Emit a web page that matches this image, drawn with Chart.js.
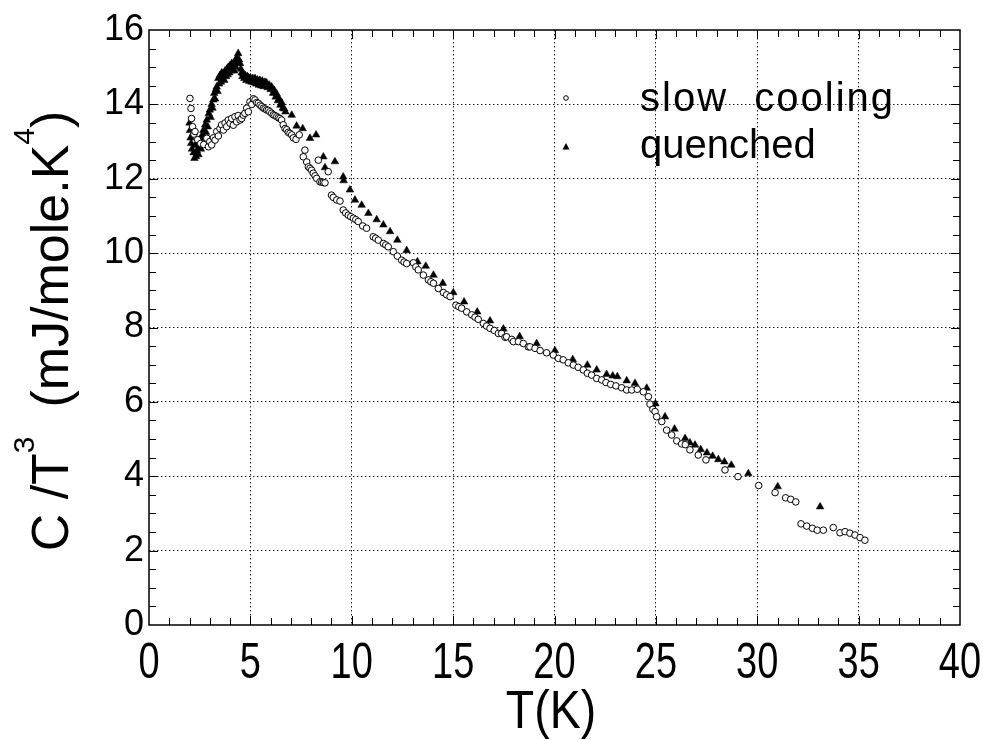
<!DOCTYPE html>
<html>
<head>
<meta charset="utf-8">
<script src="https://cdn.jsdelivr.net/npm/chart.js@4.4.0/dist/chart.umd.min.js"></script>
<style>
  html, body { margin: 0; padding: 0; background: #fff; }
  #wrap { width: 983px; height: 739px; }
</style>
</head>
<body>
<div id="wrap"><canvas id="c"></canvas></div>
<script>
// slow cooling (open circles)
const slowT = [2.02,2.07,2.10,2.15,2.22,2.27,2.40,2.55,2.70,2.85,2.93,3.00,3.09,3.18,3.26,3.34,3.42,3.50,3.58,3.67,3.75,3.83,3.91,4.00,4.08,4.16,4.24,4.32,4.40,4.49,4.57,4.65,4.73,4.82,4.90,4.98,5.07,5.15,5.23,5.31,5.39,5.48,5.56,5.64,5.72,5.80,5.88,5.96,6.05,6.13,6.21,6.30,6.38,6.46,6.54,6.62,6.71,6.79,6.87,6.95,7.04,7.12,7.25,7.41,7.61,7.69,7.78,7.86,7.94,8.02,8.10,8.19,8.27,8.35,8.43,8.52,8.60,8.68,8.84,9.00,9.09,9.26,9.42,9.58,9.70,9.83,9.95,10.08,10.20,10.32,10.54,10.73,11.06,11.18,11.31,11.56,11.68,11.80,12.05,12.25,12.46,12.58,12.71,13.04,13.16,13.28,13.53,13.78,13.90,14.03,14.27,14.52,14.68,14.85,15.14,15.28,15.42,15.67,15.92,16.08,16.24,16.49,16.65,16.82,17.03,17.23,17.39,17.56,17.64,17.89,17.97,18.22,18.46,18.71,18.79,19.04,19.29,19.61,19.94,20.19,20.43,20.68,20.93,21.17,21.42,21.62,21.83,22.08,22.33,22.54,22.77,23.03,23.31,23.56,23.81,24.08,24.38,24.63,24.71,24.85,24.96,25.04,25.29,25.53,25.78,26.03,26.27,26.45,26.68,27.09,27.47,28.41,29.05,30.07,30.88,31.40,31.65,31.90,32.16,32.44,32.72,32.96,33.26,33.75,34.08,34.33,34.57,34.82,35.07,35.31];
const slowC = [14.16,13.89,13.62,13.40,13.20,13.27,13.05,12.95,12.92,13.09,12.86,13.00,12.91,13.10,13.04,13.27,13.15,13.35,13.45,13.31,13.50,13.40,13.58,13.49,13.62,13.44,13.67,13.53,13.70,13.58,13.62,13.71,13.76,13.90,13.80,14.07,14.00,14.15,14.12,14.05,14.03,13.98,13.94,13.90,13.88,13.85,13.84,13.80,13.76,13.72,13.70,13.67,13.64,13.62,13.58,13.45,13.35,13.32,13.25,13.22,13.18,13.10,13.06,13.18,12.59,12.77,12.45,12.32,12.28,12.23,12.15,12.08,12.01,12.50,11.92,11.91,11.90,11.89,12.19,11.56,11.50,11.43,11.40,11.16,11.08,11.02,10.98,10.94,10.90,10.85,10.73,10.67,10.44,10.40,10.35,10.26,10.22,10.17,10.04,9.92,9.81,9.76,9.72,9.74,9.63,9.55,9.41,9.28,9.23,9.19,9.05,8.94,8.88,8.83,8.60,8.56,8.52,8.42,8.34,8.28,8.22,8.11,8.04,7.98,7.92,7.84,7.84,7.74,7.75,7.68,7.62,7.62,7.57,7.48,7.48,7.44,7.38,7.32,7.26,7.17,7.13,7.05,6.99,6.93,6.86,6.77,6.72,6.63,6.59,6.52,6.47,6.43,6.38,6.32,6.32,6.34,6.27,6.14,5.94,5.80,5.74,5.60,5.47,5.24,5.11,4.95,4.87,4.85,4.71,4.57,4.44,4.17,3.99,3.75,3.56,3.42,3.38,3.31,2.72,2.66,2.60,2.55,2.55,2.62,2.48,2.51,2.47,2.42,2.35,2.28];

// quenched (filled triangles)
const quenchT = [2.00,2.02,2.05,2.08,2.12,2.16,2.20,2.24,2.28,2.32,2.36,2.40,2.44,2.48,2.52,2.56,2.60,2.64,2.68,2.72,2.77,2.81,2.85,2.90,2.95,3.00,3.04,3.09,3.13,3.17,3.22,3.26,3.30,3.34,3.38,3.42,3.46,3.50,3.55,3.59,3.63,3.67,3.71,3.75,3.80,3.84,3.88,3.91,3.96,4.00,4.04,4.08,4.12,4.16,4.20,4.24,4.28,4.32,4.36,4.40,4.44,4.49,4.53,4.57,4.61,4.65,4.70,4.75,4.80,4.85,4.90,4.95,5.00,5.06,5.12,5.18,5.23,5.29,5.35,5.41,5.47,5.53,5.59,5.65,5.72,5.80,5.86,5.93,6.00,6.05,6.12,6.18,6.25,6.30,6.36,6.42,6.48,6.54,6.60,6.67,6.73,7.04,7.28,7.58,7.94,8.24,8.60,8.68,9.17,9.58,9.60,9.91,10.16,10.49,10.82,11.23,11.56,11.89,12.25,12.71,13.24,13.65,14.03,14.49,15.01,15.54,16.19,16.82,17.48,18.28,19.12,20.02,20.90,21.62,22.08,22.57,22.87,23.10,23.56,23.97,24.55,24.98,25.45,25.92,26.44,26.68,26.93,27.21,27.52,27.80,28.08,28.38,28.72,29.56,31.01,33.10];
const quenchC = [13.50,13.30,13.10,12.95,12.80,13.20,12.70,12.55,12.90,12.60,12.75,13.00,12.65,12.85,13.05,12.80,13.15,12.95,13.30,13.10,13.45,13.25,13.58,13.40,13.75,13.85,13.65,14.00,13.90,14.12,14.30,14.15,14.40,14.47,14.35,14.70,14.55,14.78,14.60,14.85,14.70,14.83,14.65,14.90,14.75,14.95,14.80,15.00,14.85,15.05,14.90,15.10,14.95,15.08,14.90,15.15,15.00,15.25,15.10,15.37,15.20,15.10,14.95,14.85,14.75,14.83,14.70,14.78,14.65,14.75,14.72,14.62,14.72,14.60,14.70,14.58,14.70,14.55,14.66,14.52,14.65,14.50,14.63,14.48,14.60,14.58,14.45,14.52,14.40,14.47,14.30,14.38,14.20,14.28,14.10,14.15,13.98,14.05,13.90,13.88,13.80,13.71,13.42,13.35,13.09,13.18,12.59,12.30,12.46,12.05,11.95,11.70,11.43,11.29,11.07,10.90,10.76,10.58,10.35,10.07,9.77,9.65,9.41,9.19,8.94,8.69,8.42,8.18,7.96,7.76,7.57,7.38,7.14,6.99,6.86,6.74,6.70,6.68,6.57,6.50,6.37,5.95,5.60,5.27,5.02,4.90,4.84,4.72,4.63,4.54,4.45,4.39,4.30,4.07,3.72,3.18];

const xTicks = [0, 5, 10, 15, 20, 25, 30, 35, 40];
const yTicks = [0, 2, 4, 6, 8, 10, 12, 14, 16];
const seriesNames = ['slow  cooling', 'quenched'];
const xTitle = 'T(K)';

const toPoints = (xs, ys) => xs.map((x, i) => ({x: x, y: ys[i]}));
const SANS = '"Liberation Sans", Arial, Helvetica, sans-serif';

// frame, inner minor ticks, narrow x labels, titles, legend
const decorPlugin = {
    id: 'decor',
    afterDraw(chart) {
        const ctx = chart.ctx;
        const a = chart.chartArea;
        const xs = chart.scales.x, ys = chart.scales.y;
        ctx.save();
        ctx.strokeStyle = '#000';
        ctx.fillStyle = '#000';
        ctx.lineWidth = 1;
        // minor ticks
        ctx.beginPath();
        for (let v = 1; v < 40; v++) {
            const px = Math.round(xs.getPixelForValue(v)) + 0.5;
            const len = (v % 5 === 0) ? 9 : 7;
            ctx.moveTo(px, a.bottom); ctx.lineTo(px, a.bottom - len);
            ctx.moveTo(px, a.top); ctx.lineTo(px, a.top + len);
        }
        for (let v = 0.5; v < 16; v += 0.5) {
            const py = Math.round(ys.getPixelForValue(v)) + 0.5;
            const len = (v % 2 === 0) ? 9 : 7;
            ctx.moveTo(a.left, py); ctx.lineTo(a.left + len, py);
            ctx.moveTo(a.right, py); ctx.lineTo(a.right - len, py);
        }
        ctx.stroke();
        // frame
        ctx.lineWidth = 1.5;
        ctx.strokeRect(a.left, a.top, a.right - a.left, a.bottom - a.top);

        // x tick labels, condensed like the original
        ctx.font = '50px ' + SANS;
        ctx.textAlign = 'center';
        ctx.textBaseline = 'middle';
        xTicks.forEach(v => {
            const px = xs.getPixelForValue(v);
            ctx.setTransform(0.76, 0, 0, 1, px, 664);
            ctx.fillText(String(v), 0, 0);
        });
        // x title
        ctx.font = '54px ' + SANS;
        ctx.setTransform(0.86, 0, 0, 1, 551, 713);
        ctx.fillText(xTitle, 0, 0);
        ctx.setTransform(1, 0, 0, 1, 0, 0);

        // y axis title with superscripts
        const big = '52px ' + SANS;
        const small = '30px ' + SANS;
        const parts = [
            {t: 'C /T', f: big, dy: 0},
            {t: '3', f: small, dy: -34},
            {t: '  (mJ/mole.K', f: big, dy: 0},
            {t: '4', f: small, dy: -34},
            {t: ')', f: big, dy: 0}
        ];
        let total = 0;
        parts.forEach(p => { ctx.font = p.f; p.w = ctx.measureText(p.t).width; total += p.w; });
        ctx.translate(68, 331);
        ctx.rotate(-Math.PI / 2);
        ctx.textAlign = 'left';
        ctx.textBaseline = 'alphabetic';
        let cx = -total / 2;
        parts.forEach(p => { ctx.font = p.f; ctx.fillText(p.t, cx, p.dy); cx += p.w; });
        ctx.setTransform(1, 0, 0, 1, 0, 0);

        // legend
        ctx.font = '40px ' + SANS;
        ctx.textBaseline = 'middle';
        ctx.letterSpacing = '2px';
        ctx.fillText(seriesNames[0], 640, 100);
        ctx.letterSpacing = '0px';
        ctx.fillText(seriesNames[1], 640, 147);
        ctx.lineWidth = 1;
        ctx.beginPath();
        ctx.arc(566, 98, 2.3, 0, Math.PI * 2);
        ctx.stroke();
        ctx.beginPath();
        ctx.moveTo(566, 143); ctx.lineTo(569.5, 149.5); ctx.lineTo(562.5, 149.5);
        ctx.closePath();
        ctx.fill();
        ctx.restore();
    }
};

const ctx = document.getElementById('c').getContext('2d');
const myChart = new Chart(ctx, {
    type: 'scatter',
    data: {
        datasets: [{
            label: seriesNames[0],
            data: toPoints(slowT, slowC),
            pointStyle: 'circle',
            pointRadius: 3.3,
            borderWidth: 1,
            borderColor: '#000',
            backgroundColor: '#fff'
        }, {
            label: seriesNames[1],
            data: toPoints(quenchT, quenchC),
            pointStyle: 'triangle',
            pointRadius: 4.4,
            borderWidth: 0.5,
            borderColor: '#000',
            backgroundColor: '#000'
        }]
    },
    options: {
        responsive: true,
        maintainAspectRatio: false,
        animation: false,
        layout: {
            padding: {left: 0, top: 30, right: 23, bottom: 0}
        },
        plugins: {
            legend: {display: false},
            tooltip: {enabled: false}
        },
        scales: {
            x: {
                type: 'linear',
                min: 0,
                max: 40,
                afterFit: (scale) => { scale.height = 114; },
                afterBuildTicks: (scale) => { scale.ticks = xTicks.map(v => ({value: v})); },
                grid: {
                    color: (c) => (c.tick && (c.tick.value === 0 || c.tick.value === 40)) ? 'rgba(0,0,0,0)' : '#222',
                    lineWidth: 1,
                    drawTicks: false
                },
                border: {display: false, dash: [1.5, 2.5]},
                ticks: {display: false}
            },
            y: {
                type: 'linear',
                min: 0,
                max: 16,
                afterFit: (scale) => { scale.width = 149; },
                afterBuildTicks: (scale) => { scale.ticks = yTicks.map(v => ({value: v})); },
                grid: {
                    color: (c) => (c.tick && (c.tick.value === 0 || c.tick.value === 16)) ? 'rgba(0,0,0,0)' : '#222',
                    lineWidth: 1,
                    drawTicks: false
                },
                border: {display: false, dash: [1.5, 2.5]},
                ticks: {
                    color: '#000',
                    padding: 5,
                    font: {family: SANS, size: 36}
                }
            }
        }
    },
    plugins: [decorPlugin]
});
</script>
</body>
</html>
